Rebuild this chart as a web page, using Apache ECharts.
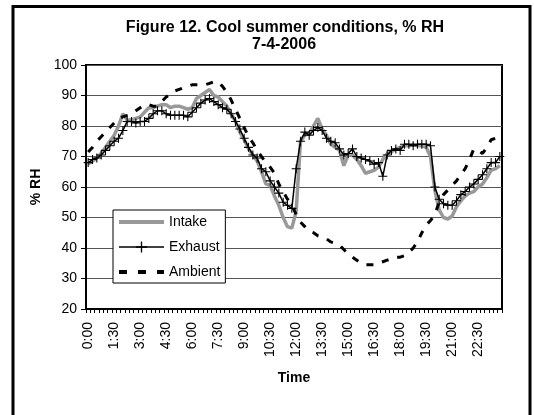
<!DOCTYPE html>
<html>
<head>
<meta charset="utf-8">
<script src="https://cdn.jsdelivr.net/npm/echarts@6/dist/echarts.min.js"></script>
<style>
html,body{margin:0;padding:0;background:#fff;}
#c{width:534px;height:415px;}
</style>
</head>
<body>
<div id="c"></div>
<script>
// 15-minute time categories 0:00 .. 23:45
const times = [];
for (let h = 0; h < 24; h++) {
  for (const m of ['00', '15', '30', '45']) times.push(h + ':' + m);
}

const intake = [
  67.5, 68.5, 69.5, 71, 73, 75, 77, 80, 84, 82, 82, 82.5,
  83, 84.5, 86, 86, 86.5, 87, 87, 86, 86.5, 86.5, 86, 85.5,
  86, 89, 90, 91, 92, 90, 89.5, 88, 86.5, 84, 81.5, 78,
  75.5, 72.5, 70.5, 68.5, 65, 61, 60.5, 57, 54, 50, 47, 46.5,
  52, 75, 77, 77.5, 80, 82.5, 79, 77, 74, 73, 72, 67,
  70.5, 70.5, 69, 67, 64.5, 65, 65.5, 66.5, 69, 71, 71.5, 72.5,
  73, 73.5, 73.5, 74, 73.5, 73.5, 73, 70, 59, 52.5, 50, 49.5,
  50.5, 53.5, 55.5, 57, 58, 58.5, 60, 61, 63, 65.5, 66, 67
];

const exhaust = [
  68, 69, 69.5, 70.5, 72, 73.5, 75, 76, 78.5, 81.5, 81.5, 81,
  81.5, 81.5, 82.5, 84, 85, 85, 84, 83.5, 83.5, 83.5, 83.5, 83,
  84.5, 86, 87.5, 88.5, 89, 88, 87, 86, 85.5, 84, 81.5, 79,
  76, 73, 70.5, 69.5, 66, 65, 62, 60, 58, 55, 54, 53,
  66, 75, 78, 77, 78.5, 79.5, 78.5, 76, 75, 74.5, 72.5, 70.5,
  71, 72.5, 70, 69.5, 69, 68.5, 67.5, 68, 63.5, 70.5, 72, 72.5,
  72, 74, 74, 73.5, 74, 74, 74, 73.5, 60, 56, 54.5, 54,
  54, 55.5, 57.5, 58.5, 60, 61, 62.5, 64, 66, 68, 68, 70
];

const ambient = [
  71.5, 73, 75, 76.5, 78, 79.5, 81, 82.5, 83, 83.5, 84, 85,
  86, 87, 87, 86.5, 86.5, 88, 89.5, 90.5, 91.5, 92, 92.5, 93,
  93.5, 93.5, 93.5, 93.5, 94, 94.5, 94.5, 93, 91, 88.5, 85.5, 82.5,
  79.5, 76.5, 74.5, 72, 70, 68, 66.5, 64.5, 61, 58.5, 56, 54,
  51, 48.5, 47, 45.5, 45, 44, 43.5, 43, 42, 41.5, 41, 39.5,
  38, 37, 36, 35, 34.5, 34.5, 34.5, 35, 35.5, 36, 36.5, 37,
  37, 37.5, 38.5, 40, 42, 45, 47.5, 49, 51, 55, 57.5, 59,
  60.5, 62, 64, 66, 69, 72.5, 72, 71, 73, 75.5, 76, 74
];

const yTicks = { min: 20, max: 100, step: 10 };
const FONT = '"Liberation Sans", Arial, sans-serif';
const plusPath = 'path://M0,4.4L4.4,4.4L4.4,0L5.6,0L5.6,4.4L10,4.4L10,5.6L5.6,5.6L5.6,10L4.4,10L4.4,5.6L0,5.6Z';

const chart = echarts.init(document.getElementById('c'), null, { renderer: 'canvas' });
chart.setOption({
  animation: false,
  backgroundColor: '#fff',
  textStyle: { fontFamily: FONT, color: '#000' },
  graphic: [
    { type: 'rect', shape: { x: 13, y: 6.5, width: 517, height: 420 },
      style: { fill: 'none', stroke: '#000', lineWidth: 3 }, silent: true, z: 100 },
    { type: 'text', x: 285, y: 27.5,
      style: { text: 'Figure 12. Cool summer conditions, % RH', font: 'bold 16px ' + FONT,
               fill: '#000', textAlign: 'center', textVerticalAlign: 'middle' } },
    { type: 'text', x: 284, y: 44.5,
      style: { text: '7-4-2006', font: 'bold 16px ' + FONT,
               fill: '#000', textAlign: 'center', textVerticalAlign: 'middle' } }
  ],
  grid: {
    left: 86, right: 32, top: 65, bottom: 106,
    show: true, borderColor: '#000', borderWidth: 2, backgroundColor: 'transparent'
  },
  legend: {
    orient: 'vertical',
    left: 113, top: 210,
    backgroundColor: '#fff',
    borderColor: '#000', borderWidth: 1,
    padding: [5, 5, 4, 4],
    itemWidth: 45, itemHeight: 14, itemGap: 11,
    textStyle: { fontSize: 14, color: '#000', fontFamily: FONT },
    data: [
      { name: 'Intake', itemStyle: { opacity: 0 }, lineStyle: { width: 4, color: '#999999' } },
      { name: 'Exhaust', lineStyle: { width: 1.5, color: '#000' } },
      { name: 'Ambient', itemStyle: { opacity: 0 }, lineStyle: { width: 4, color: '#000', type: [8, 11] } }
    ]
  },
  xAxis: {
    type: 'category',
    boundaryGap: true,
    data: times,
    name: 'Time',
    nameLocation: 'middle',
    nameGap: 62,
    nameTextStyle: { fontSize: 14, fontWeight: 'bold', color: '#000', fontFamily: FONT },
    axisLine: { show: true, lineStyle: { color: '#000', width: 2 } },
    axisTick: { show: true, interval: 0, length: 4, lineStyle: { color: '#000', width: 1 } },
    axisLabel: { interval: 5, rotate: 90, fontSize: 14, margin: 13, color: '#000', fontFamily: FONT },
    splitLine: { show: false }
  },
  yAxis: {
    type: 'value',
    min: yTicks.min, max: yTicks.max, interval: yTicks.step,
    name: '% RH',
    nameLocation: 'middle',
    nameGap: 42,
    nameTextStyle: { fontSize: 14, fontWeight: 'bold', color: '#000', fontFamily: FONT },
    axisLine: { show: true, lineStyle: { color: '#000', width: 2 } },
    axisTick: { show: true, length: 5, lineStyle: { color: '#000', width: 1 } },
    axisLabel: { fontSize: 14, margin: 9, color: '#000', fontFamily: FONT },
    splitLine: { show: true, lineStyle: { color: '#555', width: 1 } }
  },
  series: [
    {
      name: 'Intake', type: 'line', data: intake,
      symbol: 'none', showSymbol: false,
      lineStyle: { color: '#999999', width: 3.5 },
      itemStyle: { color: '#999999' },
      z: 2
    },
    {
      name: 'Exhaust', type: 'line', data: exhaust,
      symbol: plusPath, symbolSize: 9, showSymbol: true, showAllSymbol: true,
      lineStyle: { color: '#000', width: 1.5 },
      itemStyle: { color: '#000' },
      z: 3
    },
    {
      name: 'Ambient', type: 'line', data: ambient,
      symbol: 'none', showSymbol: false,
      lineStyle: { color: '#000', width: 3, type: [7, 9] },
      itemStyle: { color: '#000' },
      z: 4
    }
  ]
});
</script>
</body>
</html>
